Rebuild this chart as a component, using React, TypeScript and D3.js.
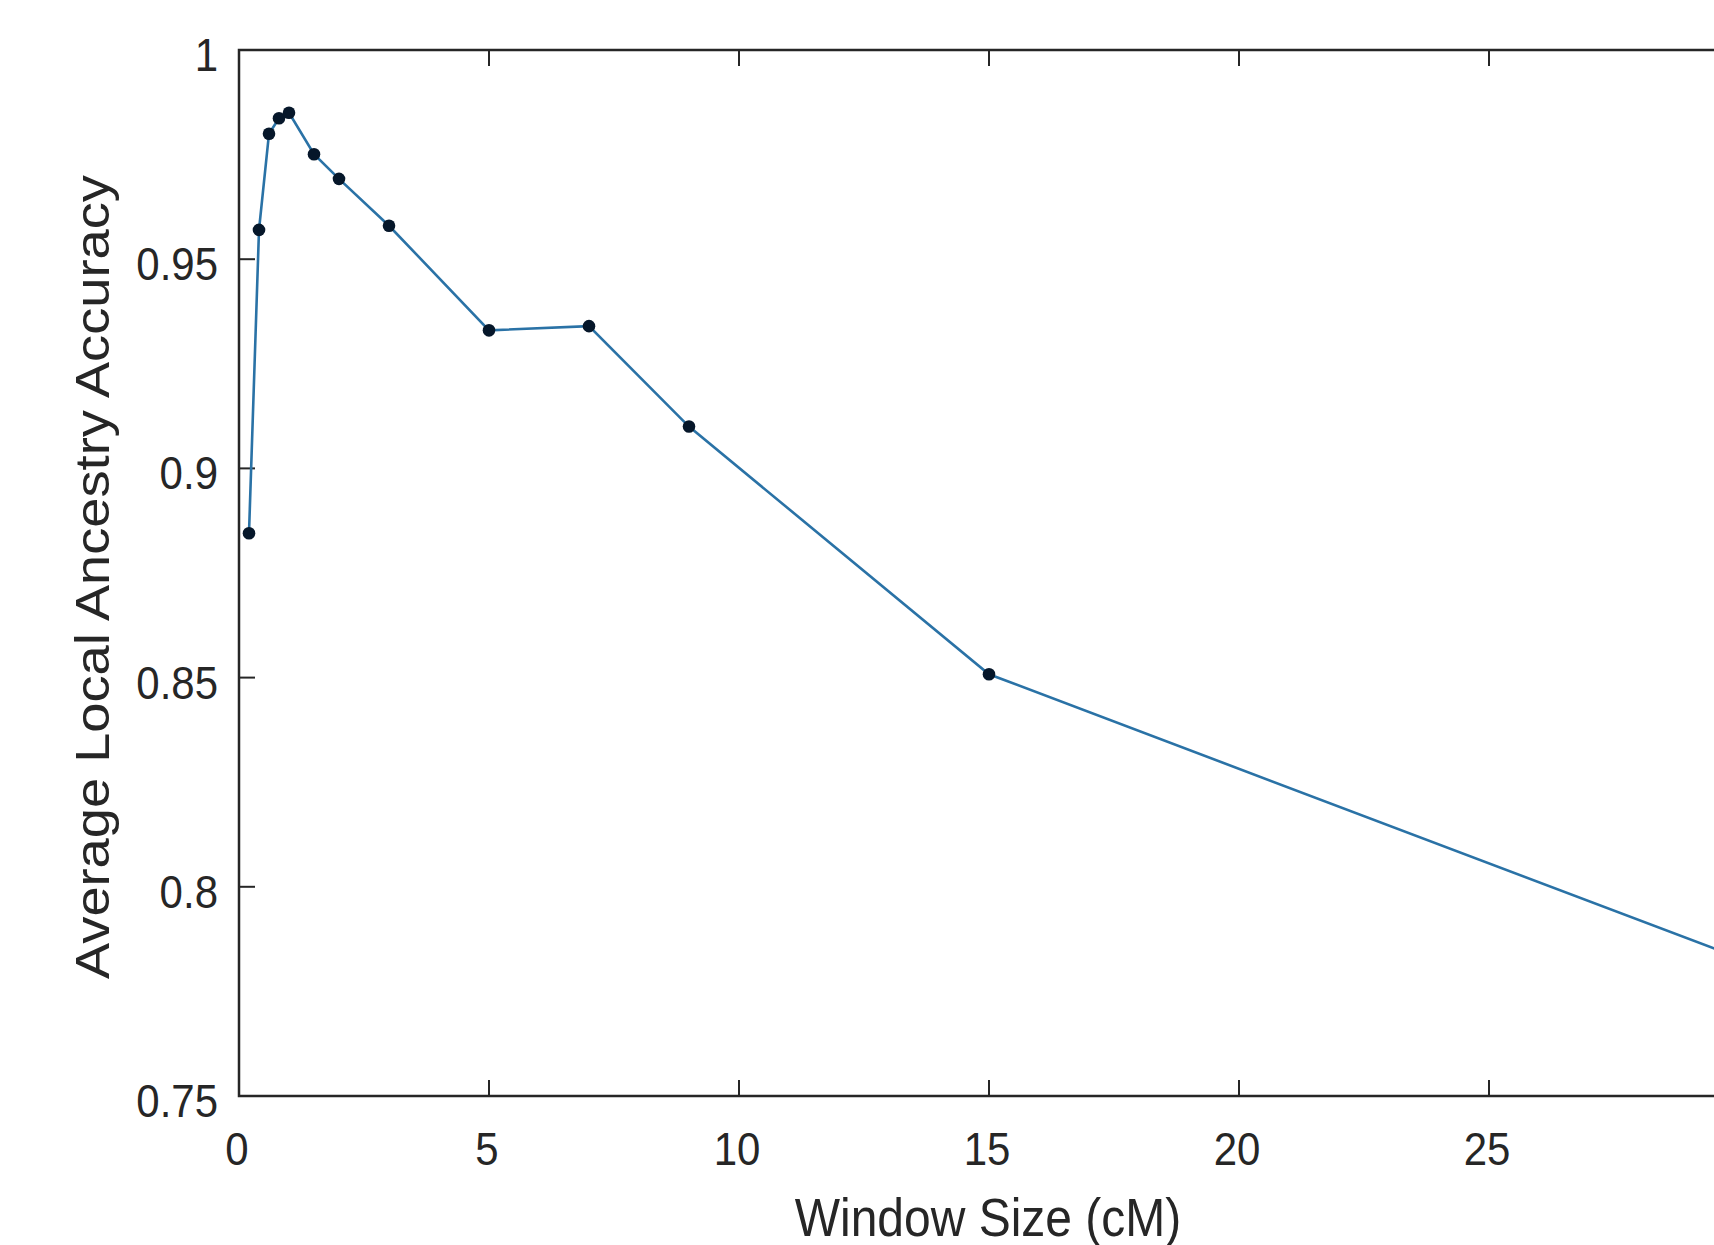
import React from "react";
import * as d3 from "d3";

const windowSizes = [0.2, 0.4, 0.6, 0.8, 1, 1.5, 2, 3, 5, 7, 9, 15, 30];
const accuracy = [0.8845, 0.957, 0.98, 0.9837, 0.985, 0.9751, 0.9692, 0.958, 0.933, 0.934, 0.91, 0.8508, 0.783];
const xTicks = [0, 5, 10, 15, 20, 25, 30];
const yTicks = [0.75, 0.8, 0.85, 0.9, 0.95, 1];
const yTickLabels = ["0.75", "0.8", "0.85", "0.9", "0.95", "1"];
const xLabel = "Window Size (cM)";
const yLabel = "Average Local Ancestry Accuracy";

const W = 1714;
const H = 1245;
const left = 239;
const right = 1739;
const top = 50;
const bottom = 1096;
const ink = "#262626";
const font = "'Liberation Sans', Arial, sans-serif";
const tickLen = 16;

export default function App() {
  const x = d3.scaleLinear().domain([0, 30]).range([left, right]);
  const y = d3.scaleLinear().domain([0.75, 1]).range([bottom, top]);
  const pts = windowSizes.map((w, i) => [w, accuracy[i]] as [number, number]);
  const line = d3
    .line<[number, number]>()
    .x((d) => x(d[0]))
    .y((d) => y(d[1]));

  return (
    <svg
      width={W}
      height={H}
      style={{ position: "absolute", left: 0, top: 0, background: "#fff" }}
      fontFamily={font}
    >
      <rect x={0} y={0} width={W} height={H} fill="#fff" />
      {xTicks.map((t) => (
        <g key={"xt" + t}>
          <line x1={x(t)} x2={x(t)} y1={bottom} y2={bottom - tickLen} stroke={ink} strokeWidth={2} />
          <line x1={x(t)} x2={x(t)} y1={top} y2={top + tickLen} stroke={ink} strokeWidth={2} />
          <text
            x={0}
            y={0}
            transform={`translate(${x(t) - 2},${bottom + 69}) scale(1,1.12)`}
            textAnchor="middle"
            fontSize={42}
            fill={ink}
          >
            {t}
          </text>
        </g>
      ))}
      {yTicks.map((t, i) => (
        <g key={"yt" + t}>
          <line x1={left} x2={left + tickLen} y1={y(t)} y2={y(t)} stroke={ink} strokeWidth={2} />
          <text
            x={0}
            y={0}
            transform={`translate(${left - 21},${y(t) + 21}) scale(1,1.12)`}
            textAnchor="end"
            fontSize={42}
            fill={ink}
          >
            {yTickLabels[i]}
          </text>
        </g>
      ))}
      <path
        d={`M${right},${top}H${left}V${bottom}H${right}`}
        fill="none"
        stroke={ink}
        strokeWidth={2.5}
      />
      <path d={line(pts) || ""} fill="none" stroke="#2a72a6" strokeWidth={2.6} />
      {pts.map((p, i) => (
        <circle key={"p" + i} cx={x(p[0])} cy={y(p[1])} r={6.3} fill="#06172a" />
      ))}
      <text
        x={0}
        y={0}
        transform={`translate(${(left + right) / 2 - 1},${1236}) scale(1,1.1)`}
        textAnchor="middle"
        fontSize={48}
        fill={ink}
      >
        {xLabel}
      </text>
      <text
        x={0}
        y={0}
        transform={`translate(109,577) rotate(-90) scale(1.13,1)`}
        textAnchor="middle"
        fontSize={48}
        fill={ink}
      >
        {yLabel}
      </text>
    </svg>
  );
}
